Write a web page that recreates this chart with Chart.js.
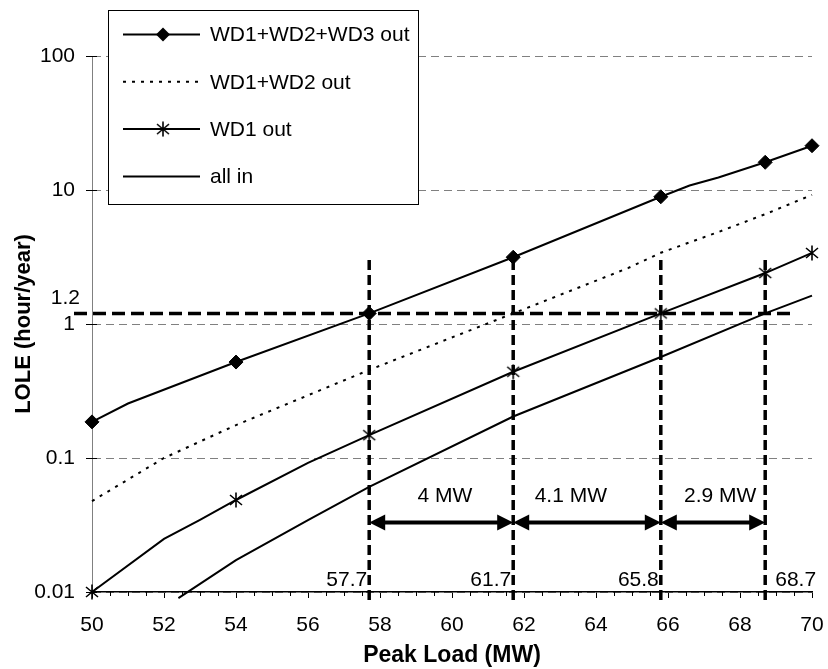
<!DOCTYPE html>
<html lang="en">
<head>
<meta charset="UTF-8">
<title>LOLE vs Peak Load</title>
<style>
  html, body { margin: 0; padding: 0; background: #fff; }
  #wrap { width: 828px; height: 669px; }
</style>
</head>
<body>
<div id="wrap"><canvas id="loleChart" width="828" height="669"></canvas></div>
<script src="https://cdn.jsdelivr.net/npm/chart.js"></script>
<script>
// Peak load (MW) against LOLE (hour/year), one pair of arrays per outage case
const loadsThreeOut = [50, 51, 54, 57.7, 61.7, 65.8, 66.6, 67.4, 68.7, 70];
const loleThreeOut  = [0.186, 0.255, 0.52, 1.2, 3.15, 8.9, 10.8, 12.4, 16.1, 21.4];

const loadsTwoOut = [50, 52, 54, 57.7, 61.7, 64.9, 65.8, 67.4, 68.7, 70];
const loleTwoOut  = [0.0477, 0.1, 0.176, 0.454, 1.2, 2.62, 3.4, 4.86, 6.6, 9.2];

const loadsOneOut = [50, 52, 53, 54, 56, 57.7, 61.7, 65.8, 68.7, 70];
const loleOneOut  = [0.01, 0.0249, 0.0345, 0.0486, 0.092, 0.148, 0.44, 1.2, 2.4, 3.39];

const loadsAllIn = [52.4, 54, 56, 57.7, 61.7, 65.8, 68.7, 70];
const loleAllIn  = [0.009, 0.0173, 0.0344, 0.061, 0.204, 0.567, 1.2, 1.63];

const seriesNames = ['WD1+WD2+WD3 out', 'WD1+WD2 out', 'WD1 out', 'all in'];
const markerLoads = [50, 54, 57.7, 61.7, 65.8, 68.7, 70];

const yTicks = [0.01, 0.1, 1, 10, 100];

// reliability criterion and the loads where each case reaches it
const loleLimit = 1.2;
const crossingLoads = [57.7, 61.7, 65.8, 68.7];
const gapLabels = ['4 MW', '4.1 MW', '2.9 MW'];
const gapLabelLoads = [59.8, 63.3, 67.45];
const arrowLole = 0.033;

const family = "'Liberation Sans', Arial, Helvetica, sans-serif";

function pairs(loads, lole) {
    return loads.map((v, i) => ({ x: v, y: lole[i] }));
}

function makeAsterisk() {
    const c = document.createElement('canvas');
    c.width = 16;
    c.height = 16;
    const g = c.getContext('2d');
    g.strokeStyle = '#000';
    g.lineWidth = 1.6;
    g.beginPath();
    g.moveTo(2, 3); g.lineTo(14, 13);
    g.moveTo(14, 3); g.lineTo(2, 13);
    g.moveTo(8, 0.5); g.lineTo(8, 15.5);
    g.stroke();
    return c;
}
const asterisk = makeAsterisk();

const markerRadius = ctx => (ctx.raw && markerLoads.includes(ctx.raw.x)) ? 7 : 0;

function drawMarker(ctx, style, px, py) {
    if (style === asterisk) {
        ctx.drawImage(asterisk, px - 8, py - 8);
        return;
    }
    // diamond
    ctx.beginPath();
    ctx.moveTo(px - 7, py);
    ctx.lineTo(px, py - 7);
    ctx.lineTo(px + 7, py);
    ctx.lineTo(px, py + 7);
    ctx.closePath();
    ctx.fill();
}

function drawArrow(ctx, a, b, py) {
    const head = 16, half = 8;
    ctx.setLineDash([]);
    ctx.lineWidth = 4;
    ctx.beginPath();
    ctx.moveTo(a + head - 1, py);
    ctx.lineTo(b - head + 1, py);
    ctx.stroke();
    ctx.beginPath();
    ctx.moveTo(a, py);
    ctx.lineTo(a + head, py - half);
    ctx.lineTo(a + head, py + half);
    ctx.closePath();
    ctx.fill();
    ctx.beginPath();
    ctx.moveTo(b, py);
    ctx.lineTo(b - head, py - half);
    ctx.lineTo(b - head, py + half);
    ctx.closePath();
    ctx.fill();
}

const markupPlugin = {
    id: 'markup',
    afterDatasetsDraw(chart) {
        const { ctx, chartArea: area, scales: { x, y } } = chart;
        ctx.save();
        ctx.strokeStyle = '#000';
        ctx.fillStyle = '#000';

        // minor ticks on the load axis
        ctx.lineWidth = 1;
        for (let v = 50.5; v < 70; v += 0.5) {
            if (v % 2 === 0) continue;
            const px = Math.round(x.getPixelForValue(v)) + 0.5;
            ctx.beginPath();
            ctx.moveTo(px, area.bottom);
            ctx.lineTo(px, area.bottom + 4);
            ctx.stroke();
        }
        // inner ticks on the LOLE axis
        yTicks.forEach(v => {
            const py = Math.round(y.getPixelForValue(v)) + 0.5;
            ctx.beginPath();
            ctx.moveTo(area.left, py);
            ctx.lineTo(area.left + 5, py);
            ctx.stroke();
        });

        // criterion line
        const yLim = y.getPixelForValue(loleLimit);
        ctx.lineWidth = 3.5;
        ctx.setLineDash([13, 6]);
        ctx.beginPath();
        ctx.moveTo(x.getPixelForValue(49.5), yLim);
        ctx.lineTo(x.getPixelForValue(69.45), yLim);
        ctx.stroke();

        // crossing loads
        ctx.setLineDash([10, 5]);
        const yTop = y.getPixelForValue(3);
        crossingLoads.forEach(v => {
            const px = x.getPixelForValue(v);
            ctx.beginPath();
            ctx.moveTo(px, yTop);
            ctx.lineTo(px, area.bottom + 13);
            ctx.stroke();
        });

        ctx.font = '21px ' + family;
        ctx.textBaseline = 'middle';

        // gaps between the crossings
        const yArrow = y.getPixelForValue(arrowLole);
        ctx.textAlign = 'center';
        for (let i = 0; i < crossingLoads.length - 1; i++) {
            const a = x.getPixelForValue(crossingLoads[i]);
            const b = x.getPixelForValue(crossingLoads[i + 1]);
            drawArrow(ctx, a, b, yArrow);
            ctx.fillText(gapLabels[i], x.getPixelForValue(gapLabelLoads[i]), yArrow - 26);
        }

        // crossing values above the axis
        crossingLoads.forEach((v, i) => {
            const px = x.getPixelForValue(v);
            const last = i === crossingLoads.length - 1;
            ctx.textAlign = last ? 'left' : 'right';
            ctx.fillText(String(v), last ? px + 10 : px - 2, area.bottom - 12);
        });

        // criterion value beside the LOLE axis
        ctx.textAlign = 'right';
        ctx.fillText(String(loleLimit), area.left - 12, yLim - 15);

        // legend
        const box = { left: 108.5, top: 10.5, width: 310, height: 194 };
        ctx.setLineDash([]);
        ctx.fillStyle = '#fff';
        ctx.fillRect(box.left, box.top, box.width, box.height);
        ctx.lineWidth = 1;
        ctx.strokeStyle = '#000';
        ctx.strokeRect(box.left, box.top, box.width, box.height);
        ctx.fillStyle = '#000';
        ctx.textAlign = 'left';
        chart.data.datasets.forEach((ds, i) => {
            const py = box.top + 24 + i * 47.3;
            ctx.lineWidth = ds.borderWidth;
            ctx.setLineDash(ds.borderDash || []);
            ctx.beginPath();
            ctx.moveTo(123, py);
            ctx.lineTo(200, py);
            ctx.stroke();
            ctx.setLineDash([]);
            if (ds.legendMarker) drawMarker(ctx, ds.pointStyle, 163, py);
            ctx.fillText(ds.label, 210, py + 1);
        });
        ctx.restore();
    }
};

const baseSeries = {
    borderColor: '#000',
    backgroundColor: '#000',
    borderWidth: 2,
    tension: 0,
    clip: 10,
    pointHoverRadius: 0,
    pointBorderWidth: 1
};

const ctx = document.getElementById('loleChart').getContext('2d');
new Chart(ctx, {
    type: 'line',
    data: {
        datasets: [
            Object.assign({}, baseSeries, {
                label: seriesNames[0],
                data: pairs(loadsThreeOut, loleThreeOut),
                pointStyle: 'rectRot',
                pointRadius: markerRadius,
                legendMarker: true
            }),
            Object.assign({}, baseSeries, {
                label: seriesNames[1],
                data: pairs(loadsTwoOut, loleTwoOut),
                borderDash: [3, 6],
                pointRadius: 0
            }),
            Object.assign({}, baseSeries, {
                label: seriesNames[2],
                data: pairs(loadsOneOut, loleOneOut),
                pointStyle: asterisk,
                pointRadius: markerRadius,
                legendMarker: true
            }),
            Object.assign({}, baseSeries, {
                label: seriesNames[3],
                data: pairs(loadsAllIn, loleAllIn),
                pointRadius: 0
            })
        ]
    },
    options: {
        responsive: false,
        devicePixelRatio: 1,
        animation: false,
        events: [],
        layout: { padding: { top: 56, right: 16, left: 0, bottom: 0 } },
        plugins: {
            legend: { display: false },
            tooltip: { enabled: false }
        },
        scales: {
            x: {
                type: 'linear',
                min: 50,
                max: 70,
                afterFit: s => { s.height = 77; s.paddingLeft = 0; s.paddingRight = 0; },
                ticks: { stepSize: 2, maxRotation: 0, padding: 15, color: '#000', font: { size: 21, family } },
                grid: { drawOnChartArea: false, tickLength: 6, tickColor: '#000', tickWidth: 1 },
                border: { color: '#000', width: 1.5 },
                title: {
                    display: true,
                    text: 'Peak Load (MW)',
                    color: '#000',
                    font: { size: 23, weight: 'bold', family },
                    padding: { top: 0, bottom: 0 }
                }
            },
            y: {
                type: 'logarithmic',
                min: 0.01,
                max: 100,
                afterBuildTicks: s => { s.ticks = yTicks.map(v => ({ value: v })); },
                afterFit: s => { s.width = 92; s.paddingTop = 0; s.paddingBottom = 0; },
                ticks: { callback: v => String(v), padding: 11, color: '#000', font: { size: 21, family } },
                grid: { color: '#808080', lineWidth: 1, tickLength: 6, tickColor: '#000', tickBorderDash: [] },
                border: { color: '#808080', width: 1, dash: [8, 5] },
                title: {
                    display: true,
                    text: 'LOLE (hour/year)',
                    color: '#000',
                    font: { size: 22, weight: 'bold', family },
                    padding: { top: 11, bottom: 0 }
                }
            }
        }
    },
    plugins: [markupPlugin]
});
</script>
</body>
</html>
